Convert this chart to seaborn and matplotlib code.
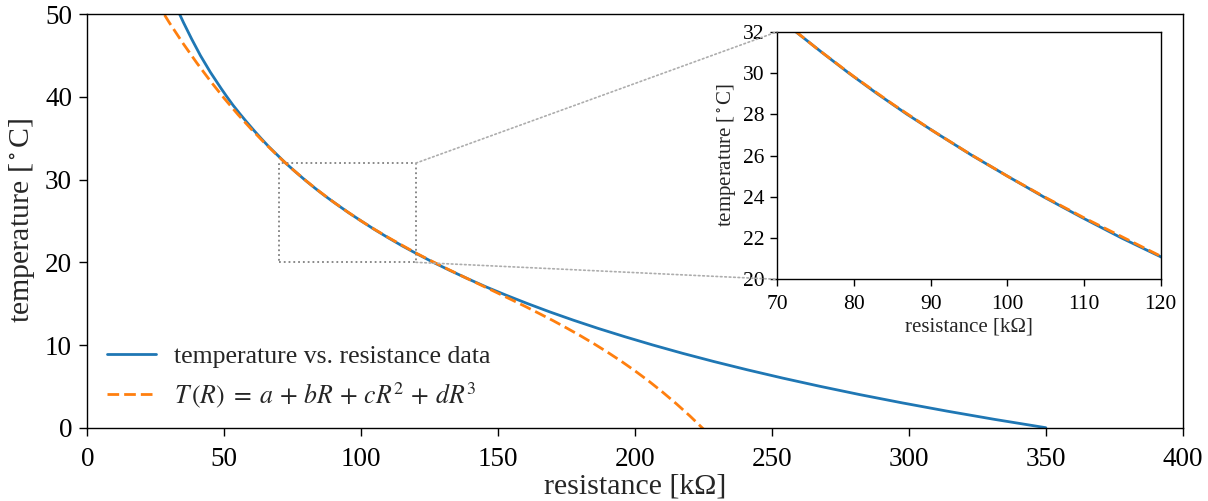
import numpy as np
import pandas as pd
import seaborn as sns
import matplotlib.pyplot as plt
from matplotlib.patches import Rectangle, ConnectionPatch

# thermistor table: temperature [degC] -> resistance [kOhm]
temp_data = list(range(0, 56))
res_data = [350.0, 331.4, 314.0, 297.6, 282.1, 267.6, 253.9, 241.0, 228.8, 217.3,
            206.5, 196.3, 186.6, 177.5, 168.9, 160.8, 153.1, 145.8, 139.0, 132.5,
            126.3, 120.5, 114.9, 109.7, 104.7, 100.0, 95.4, 91.1, 86.9, 83.0,
            79.3, 75.8, 72.4, 69.3, 66.2, 63.4, 60.7, 58.1, 55.6, 53.2,
            51.0, 48.9, 46.9, 44.9, 43.1, 41.3, 39.7, 38.1, 36.6, 35.1,
            33.7, 32.4, 31.1, 29.9, 28.8, 27.7]

# cubic fit curve
res_fit = list(range(25, 231, 5))
temp_fit = [51.61, 48.95, 46.45, 44.10, 41.89, 39.82, 37.87, 36.05, 34.34, 32.73,
            31.23, 29.82, 28.50, 27.26, 26.10, 25.00, 23.96, 22.98, 22.05, 21.12,
            20.27, 19.44, 18.63, 17.84, 17.05, 16.26, 15.46, 14.65, 13.81, 12.96,
            12.06, 11.13, 10.15, 9.12, 8.03, 6.87, 5.64, 4.32, 2.92, 1.43,
            -0.17, -1.87]

zoom_x = (70, 120)
zoom_y = (20, 32)

sns.set_style("ticks")
plt.rcParams['font.family'] = ['Liberation Serif', 'DejaVu Serif']
plt.rcParams['mathtext.fontset'] = 'stix'

data = pd.DataFrame({"R": res_data, "T": temp_data})
fit = pd.DataFrame({"R": res_fit, "T": temp_fit})

blue, orange = sns.color_palette("tab10")[:2]
dash = (4.2, 1.8)

fig = plt.figure(figsize=(12.08, 5.01), dpi=100)
ax = fig.add_axes([0.0723, 0.1463, 0.9068, 0.8253])

sns.lineplot(data=data, x="R", y="T", ax=ax, color=blue, lw=2,
             sort=False, estimator=None, label="temperature vs. resistance data")
sns.lineplot(data=fit, x="R", y="T", ax=ax, color=orange, lw=2, ls="--",
             sort=False, estimator=None,
             label=r"$T\,(R)\;=\;a\,+\,bR\,+\,cR^2\,+\,dR^3$")
ax.lines[1].set_dashes(dash)

ax.set_xlim(0, 400)
ax.set_ylim(0, 50)
ax.set_xticks(np.arange(0, 401, 50))
ax.set_yticks(np.arange(0, 51, 10))
ax.tick_params(labelsize=19.5, length=6, width=1, pad=5, colors="black")
ax.tick_params(axis="x", pad=8)
ax.set_xlabel("resistance [kΩ]", fontsize=21.5, labelpad=1)
ax.set_ylabel(r"temperature [$^\circ$C]", fontsize=21.5, labelpad=6)
for s in ax.spines.values():
    s.set_color("black")
    s.set_linewidth(1)
leg = ax.legend(loc="lower left", frameon=False, fontsize=18.5, handlelength=1.9,
                handletextpad=0.7, bbox_to_anchor=(-0.003, -0.012), labelspacing=0.45)
leg.get_lines()[1].set_dashes(dash)

# inset
axins = fig.add_axes([0.6435, 0.4425, 0.3174, 0.4942])
sns.lineplot(data=data, x="R", y="T", ax=axins, color=blue, lw=2,
             sort=False, estimator=None)
sns.lineplot(data=fit, x="R", y="T", ax=axins, color=orange, lw=2, ls="--",
             sort=False, estimator=None)
axins.lines[1].set_dashes(dash)
axins.set_xlim(*zoom_x)
axins.set_ylim(*zoom_y)
axins.set_xticks(np.arange(70, 121, 10))
axins.set_yticks(np.arange(20, 33, 2))
axins.tick_params(labelsize=15.5, length=5, width=1, pad=4, colors="black")
axins.tick_params(axis="x", pad=6)
axins.set_xlabel("resistance [kΩ]", fontsize=15, labelpad=3)
axins.set_ylabel(r"temperature [$^\circ$C]", fontsize=15, labelpad=4)
for s in axins.spines.values():
    s.set_color("black")
    s.set_linewidth(1)

rect = Rectangle((zoom_x[0], zoom_y[0]), zoom_x[1] - zoom_x[0],
                 zoom_y[1] - zoom_y[0], fill=False, ec="0.5", lw=1.3, ls=":")
ax.add_patch(rect)
for yd, ya in [(zoom_y[1], 1), (zoom_y[0], 0)]:
    con = ConnectionPatch(xyA=(zoom_x[1], yd), coordsA=ax.transData,
                          xyB=(0, ya), coordsB=axins.transAxes,
                          color="0.68", lw=1.2, ls=":")
    fig.add_artist(con)

fig.savefig("out.png", dpi=100)
